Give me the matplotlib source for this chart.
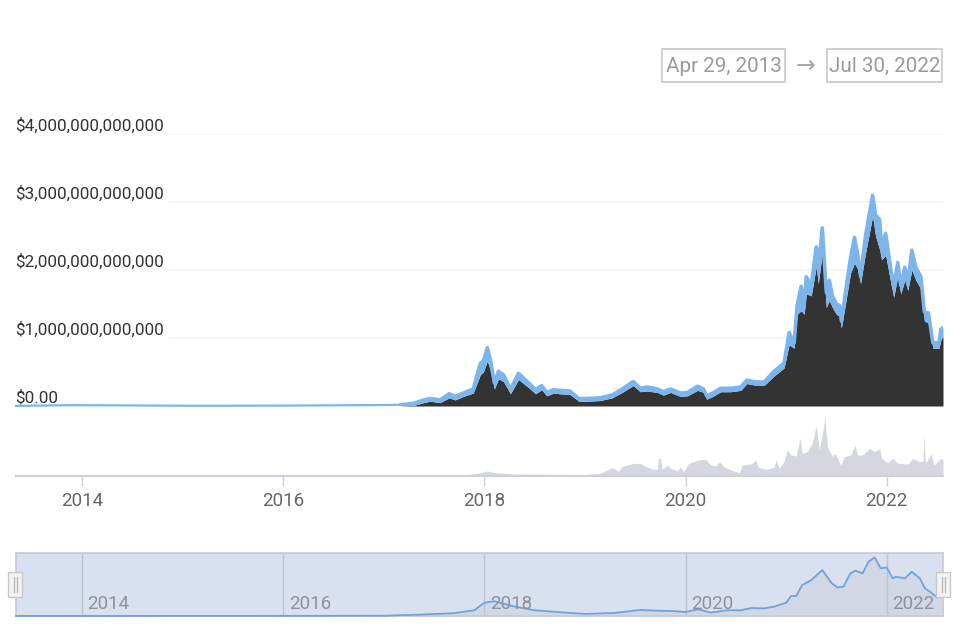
import matplotlib
matplotlib.use("Agg")
import matplotlib.pyplot as plt
from matplotlib.patches import Rectangle

plt.rcParams['font.family'] = ['Roboto', 'DejaVu Sans']

# Total market cap, trillions USD, by decimal year
early_years = [2013.344, 2013.9, 2014.5, 2015.0, 2015.5, 2016.0, 2016.5, 2017.0, 2017.17]
early_total = [0.002, 0.012, 0.008, 0.004, 0.004, 0.006, 0.010, 0.014, 0.018]
cap_years = [2017.17, 2017.30, 2017.40, 2017.46,
             2017.56, 2017.65, 2017.71, 2017.79, 2017.89, 2017.96, 2017.99, 2018.03, 2018.06, 2018.10, 2018.14,
             2018.19, 2018.26, 2018.34, 2018.44, 2018.51, 2018.57, 2018.62, 2018.69, 2018.75, 2018.85, 2018.94,
             2019.02, 2019.15, 2019.27, 2019.37, 2019.48, 2019.55, 2019.62, 2019.72, 2019.78, 2019.85, 2019.95,
             2020.02, 2020.12, 2020.18, 2020.21, 2020.27, 2020.35, 2020.45, 2020.55, 2020.61, 2020.68, 2020.78,
             2020.88, 2020.93, 2020.98, 2021.03, 2021.08, 2021.11, 2021.15, 2021.18, 2021.20, 2021.25, 2021.30,
             2021.32, 2021.36, 2021.40, 2021.43, 2021.46, 2021.50, 2021.53, 2021.55, 2021.59, 2021.64, 2021.68,
             2021.71, 2021.74, 2021.79, 2021.86, 2021.89, 2021.93, 2021.95, 2021.99, 2022.03, 2022.07, 2022.11,
             2022.14, 2022.18, 2022.21, 2022.25, 2022.29, 2022.34, 2022.375, 2022.415, 2022.46, 2022.52, 2022.54, 2022.56]
cap_total = [0.018, 0.04, 0.09, 0.11,
             0.09, 0.18, 0.14, 0.19, 0.25, 0.63, 0.66, 0.86, 0.68, 0.34, 0.51,
             0.46, 0.25, 0.48, 0.34, 0.24, 0.30, 0.20, 0.24, 0.23, 0.22, 0.11,
             0.11, 0.12, 0.16, 0.25, 0.36, 0.26, 0.28, 0.25, 0.21, 0.25, 0.19,
             0.20, 0.29, 0.25, 0.15, 0.19, 0.26, 0.26, 0.28, 0.38, 0.36, 0.35,
             0.51, 0.57, 0.63, 1.08, 0.93, 1.48, 1.76, 1.48, 1.90, 1.77, 2.34,
             2.02, 2.62, 1.67, 1.85, 1.62, 1.50, 1.48, 1.25, 1.67, 2.17, 2.48,
             2.24, 1.92, 2.51, 3.10, 2.81, 2.74, 2.34, 2.54, 2.12, 1.75, 2.11,
             1.77, 2.04, 1.82, 2.29, 2.04, 1.90, 1.38, 1.37, 0.93, 0.93, 1.13, 1.15]
cap_lower = [0.000, 0.01, 0.05, 0.07,
             0.05, 0.12, 0.09, 0.14, 0.19, 0.46, 0.50, 0.66, 0.53, 0.25, 0.40,
             0.36, 0.18, 0.39, 0.27, 0.18, 0.24, 0.15, 0.19, 0.18, 0.17, 0.07,
             0.07, 0.08, 0.12, 0.20, 0.30, 0.21, 0.22, 0.20, 0.16, 0.20, 0.14,
             0.15, 0.23, 0.20, 0.10, 0.14, 0.21, 0.21, 0.23, 0.33, 0.31, 0.30,
             0.44, 0.50, 0.56, 0.90, 0.85, 1.35, 1.40, 1.35, 1.65, 1.62, 2.05,
             1.80, 2.25, 1.45, 1.55, 1.45, 1.35, 1.32, 1.15, 1.50, 1.95, 2.10,
             2.02, 1.80, 2.25, 2.79, 2.50, 2.30, 2.15, 2.22, 1.90, 1.60, 1.90,
             1.65, 1.85, 1.70, 2.00, 1.85, 1.72, 1.25, 1.22, 0.85, 0.85, 0.98, 1.02]

# 24h volume, billions USD
vol_years = [2013.344, 2015.0, 2016.0, 2017.0, 2017.5, 2017.8, 2017.95, 2018.03, 2018.10, 2018.30, 2018.60, 2018.90,
             2019.0, 2019.15, 2019.27, 2019.33, 2019.38, 2019.48, 2019.55, 2019.62, 2019.68, 2019.72, 2019.73,
             2019.75, 2019.77, 2019.82, 2019.85, 2019.92, 2019.95, 2019.98, 2020.03, 2020.08, 2020.13, 2020.20,
             2020.25, 2020.30, 2020.34, 2020.38, 2020.45, 2020.54, 2020.56, 2020.65, 2020.70, 2020.72, 2020.81,
             2020.88, 2020.90, 2020.93, 2020.98, 2021.01, 2021.05, 2021.10, 2021.14, 2021.16, 2021.21, 2021.26,
             2021.30, 2021.33, 2021.36, 2021.385, 2021.41, 2021.46, 2021.485, 2021.545, 2021.58, 2021.645, 2021.685,
             2021.71, 2021.76, 2021.83, 2021.88, 2021.93, 2021.95, 2022.01, 2022.06, 2022.11, 2022.21, 2022.26,
             2022.33, 2022.36, 2022.37, 2022.385, 2022.44, 2022.47, 2022.54, 2022.56]
vol_values = [1, 1, 2, 3, 6, 10, 30, 50, 35, 20, 18, 15,
              15, 25, 85, 50, 100, 125, 127, 87, 67, 67, 177,
              177, 67, 110, 77, 53, 93, 43, 127, 143, 160, 167,
              110, 100, 143, 93, 60, 33, 110, 120, 160, 87, 67,
              87, 160, 77, 143, 260, 210, 200, 377, 227, 243, 327,
              500, 260, 410, 593, 293, 193, 227, 110, 193, 210, 310,
              210, 210, 277, 243, 277, 177, 133, 177, 127, 120, 177,
              143, 150, 420, 127, 220, 110, 177, 160]

# Navigator overview series, trillions USD
nav_years = [2013.344, 2016.0, 2017.0, 2017.4, 2017.7, 2017.9, 2018.0, 2018.1, 2018.3, 2018.5, 2018.8, 2019.0, 2019.3,
             2019.55, 2019.72, 2019.88, 2020.0, 2020.13, 2020.25, 2020.41, 2020.55, 2020.65, 2020.78, 2020.88,
             2021.0, 2021.05, 2021.10, 2021.16, 2021.25, 2021.36, 2021.45, 2021.51, 2021.57, 2021.64, 2021.69,
             2021.76, 2021.82, 2021.88, 2021.94, 2022.0, 2022.06, 2022.09, 2022.18, 2022.25, 2022.33, 2022.38,
             2022.43, 2022.50, 2022.56]
nav_values = [0.002, 0.006, 0.014, 0.08, 0.15, 0.30, 0.70, 0.78, 0.50, 0.30, 0.18, 0.11, 0.16,
              0.32, 0.28, 0.26, 0.21, 0.35, 0.18, 0.30, 0.30, 0.42, 0.40, 0.49,
              0.70, 1.05, 1.05, 1.63, 1.89, 2.42, 1.75, 1.51, 1.54, 2.25, 2.39,
              2.25, 2.86, 3.09, 2.51, 2.56, 1.98, 2.07, 1.98, 2.33, 1.98, 1.46,
              1.28, 0.98, 1.02]

grid_values = [1, 2, 3, 4]
y_labels = ["$0.00", "$1,000,000,000,000", "$2,000,000,000,000", "$3,000,000,000,000", "$4,000,000,000,000"]
year_ticks = [2014, 2016, 2018, 2020, 2022]
range_from = "Apr 29, 2013"
range_to = "Jul 30, 2022"

W, H = 960, 640
fig = plt.figure(figsize=(9.6, 6.4), dpi=100, facecolor='white')

def axes_px(x0, x1, ytop, ybot):
    ax = fig.add_axes([x0 / W, 1 - ybot / H, (x1 - x0) / W, (ybot - ytop) / H])
    ax.set_xlim(2013.344, 2022.56)
    ax.patch.set_alpha(0)
    for s in ax.spines.values():
        s.set_visible(False)
    return ax

BLUE = '#7cb5ec'
# Main price panel
ax = axes_px(16, 943, 134, 406)
ax.set_ylim(0, 4)
ax.set_xticks([]); ax.set_yticks([])
ax.hlines(grid_values, 2014.87, 2022.56, color='#f3f3f3', lw=1.2, zorder=1)
ax.fill_between(cap_years, 0, cap_lower, color='#333333', lw=0, zorder=2)
ax.fill_between(cap_years, cap_lower, cap_total, color=BLUE, lw=0, zorder=3)
ax.plot(early_years, early_total, color=BLUE, lw=1.6, zorder=4, clip_on=False)
ax.plot(cap_years, cap_total, color=BLUE, lw=2.6, zorder=4, solid_joinstyle='round')
for val, lab in zip([0] + grid_values, y_labels):
    ax.annotate(lab, xy=(0, val), xycoords=('axes fraction', 'data'), xytext=(-0.7, 0.4),
                textcoords='offset points', ha='left', va='bottom', fontsize=12.3, color='#333333')

# Volume panel
vx = axes_px(16, 943, 416, 476)
vx.set_ylim(0, 600)
vx.fill_between(vol_years, 0, vol_values, color='#d5d7e0', lw=0)
vx.spines['bottom'].set_visible(True)
vx.spines['bottom'].set_color('#ccd0da')
vx.spines['bottom'].set_linewidth(1.5)
vx.set_yticks([])
vx.set_xticks(year_ticks)
vx.set_xticklabels([str(y) for y in year_ticks], fontsize=13.5, color='#666666')
vx.tick_params(axis='x', length=7.5, width=1, color='#ccd0da', pad=4)

# Navigator
nx = axes_px(16, 943, 553, 616)
nx.set_ylim(0, 3.32)
nx.patch.set_alpha(1)
nx.patch.set_facecolor('#d9e0f0')
nx.fill_between(nav_years, 0, nav_values, color='#d1d7e5', lw=0, zorder=1)
nx.vlines(year_ticks, 0, 3.32, color='#bcc3d2', lw=1, zorder=2)
nx.plot(nav_years, nav_values, color='#6fa3dc', lw=1.3, zorder=3, clip_on=False, solid_joinstyle='round')
for y in year_ticks:
    nx.annotate(str(y), xy=(y, 0), xycoords='data', xytext=(4, 2), textcoords='offset points',
                ha='left', va='bottom', fontsize=13.5, color='#8d919e', zorder=4)
nx.set_xticks([]); nx.set_yticks([])
for s in nx.spines.values():
    s.set_visible(True); s.set_color('#c6c9d1'); s.set_linewidth(1.2)

# Overlay: date boxes and navigator handles (figure pixel coordinates)
ov = fig.add_axes([0, 0, 1, 1])
ov.set_xlim(0, W); ov.set_ylim(H, 0); ov.axis('off'); ov.patch.set_alpha(0)
for x0, x1, txt in [(662, 785, range_from), (827, 942, range_to)]:
    ov.add_patch(Rectangle((x0, 49), x1 - x0, 33, fc='white', ec='#c8c8c8', lw=1.2))
    ov.text((x0 + x1) / 2, 66, txt, ha='center', va='center', fontsize=14.9, color='#9a9a9a')
ov.text(806, 66, "\u2192", ha='center', va='center', fontsize=17, color='#a8a8a8', family=['DejaVu Sans'])
for cx in (15, 943):
    ov.add_patch(Rectangle((cx - 7, 572), 14, 25, fc='#f2f2f2', ec='#c8c8c8', lw=1, zorder=5))
    for dx in (-1.5, 1.5):
        ov.plot([cx + dx, cx + dx], [577, 592], color='#b5b5b5', lw=0.9, zorder=6)

fig.savefig('out.png', dpi=100)
